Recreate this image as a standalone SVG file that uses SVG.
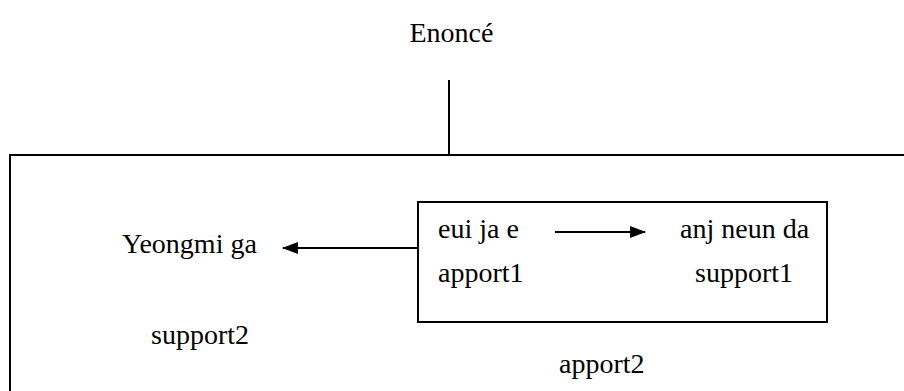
<svg xmlns="http://www.w3.org/2000/svg" width="904" height="391" viewBox="0 0 904 391">
<defs>
<style>
.t{font-family:'Liberation Serif','Times New Roman','DejaVu Serif',serif;font-size:28px;fill:#000}
.ln{stroke:#000;stroke-width:2;fill:none}
</style>
<marker id="ah" markerUnits="userSpaceOnUse" markerWidth="16" markerHeight="12" refX="15" refY="6" orient="auto">
<path d="M0,0 L16,6 L0,12 z" fill="#000"/>
</marker>
</defs>
<rect width="904" height="391" fill="#fff"/>
<g id="enonce"><text class="t" x="451.5" y="42" text-anchor="middle">Enoncé</text></g>
<g id="outer"><rect class="ln" x="10" y="155" width="910" height="260"/></g>
<g id="inner"><rect class="ln" x="418" y="202" width="409" height="120"/>
<text class="t" x="438" y="238">eui ja e</text>
<text class="t" x="680" y="238">anj neun da</text>
<text class="t" x="438" y="282">apport1</text>
<text class="t" x="695" y="282">support1</text>
</g>
<g id="yeongmi"><text class="t" x="122" y="253">Yeongmi ga</text></g>
<g id="support2"><text class="t" x="151" y="344">support2</text></g>
<g id="apport2"><text class="t" x="559" y="373">apport2</text></g>
<g id="connectors">
<line class="ln" x1="449" y1="80" x2="449" y2="155"/>
<line class="ln" x1="418" y1="248" x2="283" y2="248" marker-end="url(#ah)"/>
<line class="ln" x1="555" y1="232" x2="645" y2="232" marker-end="url(#ah)"/>
</g>
</svg>
